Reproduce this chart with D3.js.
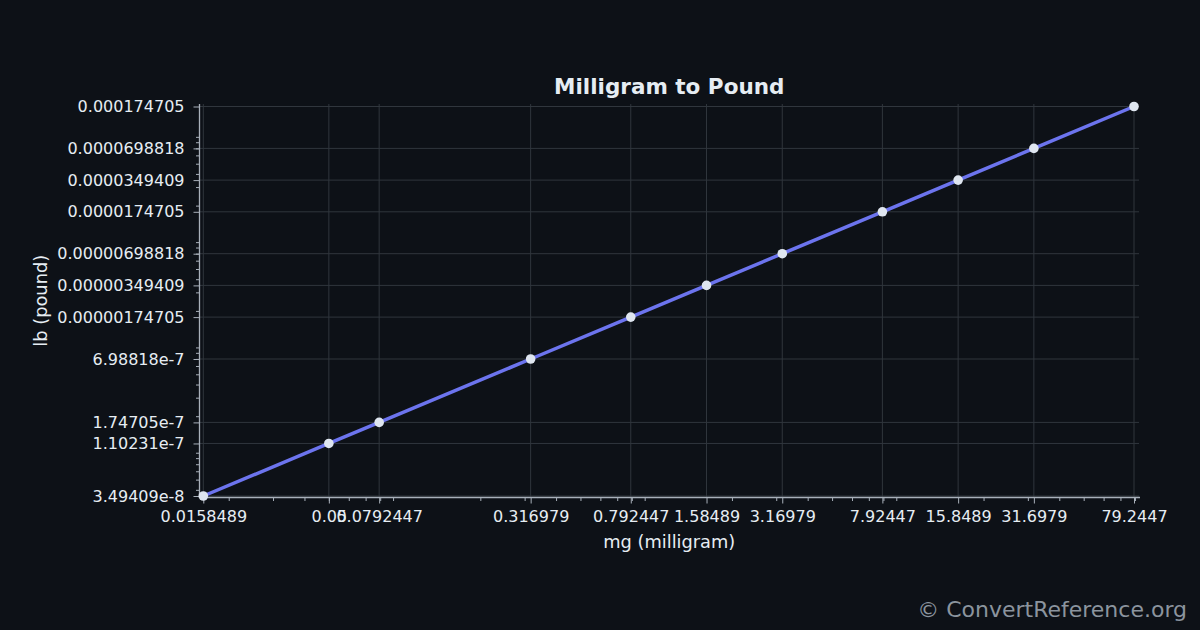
<!DOCTYPE html>
<html><head><meta charset="utf-8">
<script src="https://cdn.jsdelivr.net/npm/d3@7"></script>
<style>html,body{margin:0;background:#0d1117;} svg{display:block;}</style>
</head><body><svg id="c" width="1200" height="630"></svg>
<script>
const xValues = [0.0158489,0.05,0.0792447,0.316979,0.792447,1.58489,3.16979,7.92447,15.8489,31.6979,79.2447];
const yValues = [3.49409e-8,1.10231e-7,1.74705e-7,6.98818e-7,1.74705e-6,3.49409e-6,6.98818e-6,1.74705e-5,3.49409e-5,6.98818e-5,1.74705e-4];
const xTickLabels = ["0.0158489","0.05","0.0792447","0.316979","0.792447","1.58489","3.16979","7.92447","15.8489","31.6979","79.2447"];
const yTickLabels = ["3.49409e-8","1.10231e-7","1.74705e-7","6.98818e-7","0.00000174705","0.00000349409","0.00000698818","0.0000174705","0.0000349409","0.0000698818","0.000174705"];

const W = 1200, H = 630;
const L = 199.5, R = 1139, T = 104, B = 497.5;
const FONT = "'DejaVu Sans', sans-serif";
const svg = d3.select("#c");
svg.append("rect").attr("width", W).attr("height", H).attr("fill", "#0d1117");

// data scales, then extend to frame
const x0 = d3.scaleLog().domain([d3.min(xValues), d3.max(xValues)]).range([203.3, 1134]);
const y0 = d3.scaleLog().domain([d3.min(yValues), d3.max(yValues)]).range([496, 106.5]);
const x = d3.scaleLog().domain([x0.invert(L), x0.invert(R)]).range([L, R]);
const y = d3.scaleLog().domain([y0.invert(B), y0.invert(T)]).range([B, T]);

function minorTicks(scale) {
  const [a, b] = scale.domain();
  const lo = Math.min(a, b), hi = Math.max(a, b);
  const out = [];
  for (let k = Math.floor(Math.log10(lo)); k <= Math.ceil(Math.log10(hi)); k++) {
    for (let m = 2; m <= 9; m++) {
      const v = m * Math.pow(10, k);
      if (v >= lo && v <= hi) out.push(v);
    }
  }
  return out;
}

// grid
const grid = svg.append("g").attr("stroke", "#30363d").attr("stroke-width", 1);
xValues.forEach(v => grid.append("line").attr("x1", x(v)).attr("x2", x(v)).attr("y1", T).attr("y2", B));
yValues.forEach(v => grid.append("line").attr("x1", L).attr("x2", R).attr("y1", y(v)).attr("y2", y(v)));

// axes
const tickColor = "#a8b0ba";
const xAxis = d3.axisBottom(x).tickValues(xValues).tickFormat((d, i) => xTickLabels[i]).tickSize(6).tickPadding(4);
const gx = svg.append("g").attr("transform", `translate(0,${B})`).call(xAxis);
const xMinor = d3.axisBottom(x).tickValues(minorTicks(x)).tickFormat("").tickSize(3.5);
const gxm = svg.append("g").attr("transform", `translate(0,${B})`).call(xMinor);
const yAxis = d3.axisLeft(y).tickValues(yValues).tickFormat((d, i) => yTickLabels[i]).tickSize(6).tickPadding(9);
const gy = svg.append("g").attr("transform", `translate(${L},0)`).call(yAxis);
const yMinor = d3.axisLeft(y).tickValues(minorTicks(y)).tickFormat("").tickSize(3.5);
const gym = svg.append("g").attr("transform", `translate(${L},0)`).call(yMinor);

[gx, gxm, gy, gym].forEach(g => {
  g.select(".domain").remove();
  g.selectAll(".tick line").attr("stroke", tickColor).attr("stroke-width", 1);
  g.selectAll(".tick text").attr("fill", "#e6edf3").attr("font-family", FONT).attr("font-size", 16);
});
gx.selectAll(".tick text").attr("dy", "0.93em");

// spines
svg.append("line").attr("x1", L).attr("x2", R + 1).attr("y1", B).attr("y2", B).attr("stroke", tickColor).attr("stroke-width", 1.3);
svg.append("line").attr("x1", L).attr("x2", L).attr("y1", T).attr("y2", B).attr("stroke", tickColor).attr("stroke-width", 1.3);

// line
const pts = xValues.map((v, i) => [v, yValues[i]]);
svg.append("path").datum(pts)
  .attr("d", d3.line().x(d => x(d[0])).y(d => y(d[1])))
  .attr("fill", "none").attr("stroke", "#6c74ee").attr("stroke-width", 3.5);
svg.append("g").selectAll("circle").data(pts).join("circle")
  .attr("cx", d => x(d[0])).attr("cy", d => y(d[1])).attr("r", 4.8)
  .attr("fill", "#dfe6f0");

// texts
svg.append("text").attr("x", (L + R) / 2).attr("y", 94).attr("text-anchor", "middle")
  .attr("font-family", FONT).attr("font-weight", "bold").attr("font-size", 21.5).attr("fill", "#e6edf3")
  .text("Milligram to Pound");
svg.append("text").attr("x", (L + R) / 2).attr("y", 548).attr("text-anchor", "middle")
  .attr("font-family", FONT).attr("font-size", 17.8).attr("fill", "#e6edf3")
  .text("mg (milligram)");
svg.append("text").attr("transform", `translate(46.5,${(T + B) / 2}) rotate(-90)`).attr("text-anchor", "middle")
  .attr("font-family", FONT).attr("font-size", 17.8).attr("fill", "#e6edf3")
  .text("lb (pound)");
svg.append("text").attr("x", 1187).attr("y", 617).attr("text-anchor", "end")
  .attr("font-family", FONT).attr("font-size", 22).attr("fill", "#8b949e")
  .text("© ConvertReference.org");
</script></body></html>
